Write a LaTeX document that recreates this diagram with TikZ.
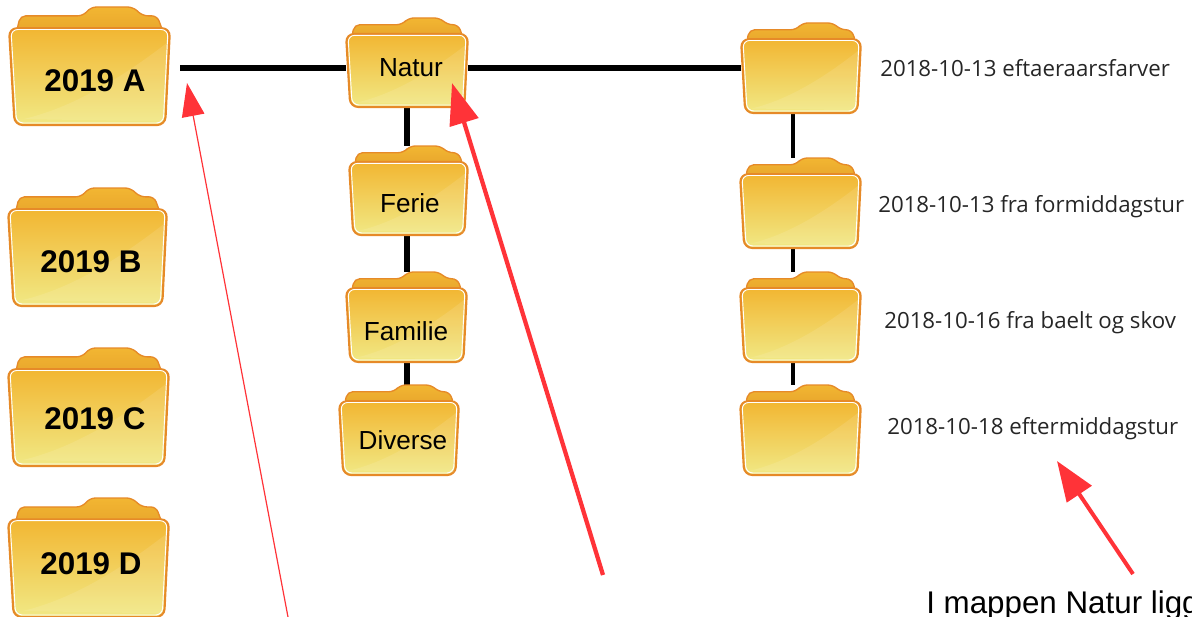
\documentclass[tikz,border=0pt]{standalone}
\usepackage{fontspec}
\setmainfont{Liberation Sans}
\newfontfamily\datefont{Open Sans}
\usetikzlibrary{arrows.meta,backgrounds}
\definecolor{folderedge}{HTML}{E68A28}
\definecolor{foldertop}{HTML}{F2B632}
\definecolor{folderbottom}{HTML}{F1E985}
\definecolor{tabdark}{HTML}{E8A52C}
\definecolor{arrowred}{HTML}{FF3338}
\tikzset{
  foldertab/.style={draw=folderedge,line width=1pt,rounded corners=4pt,top color=foldertop,bottom color=tabdark},
  folderfront/.style={draw=folderedge,line width=1.6pt,rounded corners=6pt,top color=foldertop,bottom color=folderbottom},
  folderrim/.style={draw=white,line width=0.7pt,rounded corners=5pt},
  folderframe/.style={inner sep=0pt,outer sep=0pt},
  namebig/.style={font=\bfseries\fontsize{23.5}{26}\selectfont,inner sep=0pt},
  namesmall/.style={font=\fontsize{19.6}{22}\selectfont,inner sep=0pt},
  datename/.style={font=\datefont\fontsize{16.7}{20}\selectfont,text=black!85,inner sep=0pt,anchor=west},
  railthick/.style={line width=4.5pt},
  railthin/.style={line width=3pt},
  redarrow/.style={draw=arrowred,line width=#1}
}
\newcommand{\frontpath}{(0,0.18) -- (1,0.18) -- (0.97,1) -- (0.035,1) -- cycle}
\newcommand{\folderbox}[5]{%
  \begin{scope}[shift={(#2,#3)},xscale=#4,yscale=#5]
    \path[foldertab] (0.045,0.22) -- (0.07,0.075) -- (0.46,0.075) -- (0.51,0) -- (0.77,0) -- (0.83,0.075) -- (0.92,0.075) -- (0.96,0.22) -- cycle;
    \path[folderfront] \frontpath;
    \fill[white,opacity=0.1] (0.985,0.3) .. controls (0.7,0.6) and (0.4,0.85) .. (0.09,0.95) -- (0.96,0.97) -- cycle;
  \end{scope}
  \begin{scope}[shift={(#2+2,#3+2)},xscale=#4-4,yscale=#5-4]
    \path[folderrim] \frontpath;
  \end{scope}
  \node[folderframe,minimum width={#4*0.75pt},minimum height={#5*0.75pt}] (#1) at (#2+#4/2,#3+#5/2) {};
}

\begin{document}
\begin{tikzpicture}[x=0.75pt,y=0.75pt,yscale=-1,xscale=1]
\useasboundingbox (0,0) rectangle (1192,617);
\folderbox{yeara}{9}{7}{161}{118}
\folderbox{yearb}{8}{188}{159}{118}
\folderbox{yearc}{8}{348}{161}{118}
\folderbox{yeard}{8}{498}{161}{119}
\folderbox{natur}{346}{18}{122}{89}
\folderbox{ferie}{349}{146}{119}{89}
\folderbox{familie}{346}{272}{121}{90}
\folderbox{diverse}{339}{385}{120}{90}
\folderbox{dira}{741}{23}{120}{90}
\folderbox{dirb}{740}{158}{121}{90}
\folderbox{dirc}{740}{272}{121}{90}
\folderbox{dird}{740}{385}{121}{90}
\node[namebig] (labela) at (95,81) {2019 A};
\node[namebig] (labelb) at (91,262) {2019 B};
\node[namebig] (labelc) at (95,419) {2019 C};
\node[namebig] (labeld) at (91,564) {2019 D};
\node[namesmall] (labelnatur) at (411,68) {Natur};
\node[namesmall] (labelferie) at (410,203) {Ferie};
\node[namesmall] (labelfamilie) at (406,331) {Familie};
\node[namesmall] (labeldiverse) at (403,440) {Diverse};
\node[datename] (datea) at (880,68) {2018-10-13 eftaeraarsfarver};
\node[datename] (dateb) at (878,207) {2018-10-13 fra formiddagstur};
\node[datename] (datec) at (884,323) {2018-10-16 fra baelt og skov};
\node[datename] (dated) at (887,429) {2018-10-18 eftermiddagstur};
\node[font=\fontsize{23.5}{26}\selectfont,inner sep=0pt,anchor=base west] (note) at (926,613) {I mappen Natur ligg};
\coordinate (rail) at (180,68);
\coordinate (dirline) at (793,0);
\begin{scope}[on background layer]
\draw[railthick,shorten <=7.5pt] (yeara.east|-rail) -- (natur.west|-rail);
\draw[railthick] (natur.east|-rail) -- (dira.west|-rail);
\draw[railthick] (natur.south) -- (natur.south|-ferie.north);
\draw[railthick] (natur.south|-ferie.south) -- (natur.south|-familie.north);
\draw[railthick] (natur.south|-familie.south) -- (natur.south|-diverse.north);
\draw[railthin] (dirline|-dira.south) -- (dirline|-dirb.north);
\draw[railthin] (dirline|-dirb.south) -- (dirline|-dirc.north);
\draw[railthin] (dirline|-dirc.south) -- (dirline|-dird.north);
\end{scope}
\coordinate (thinstart) at (288,617);
\coordinate (thintip) at (187,83);
\coordinate (midstart) at (603,575);
\coordinate (midtip) at (452,83);
\coordinate (notestart) at (1133,574);
\coordinate (notetip) at (1057,461);
\draw[redarrow=0.9pt,-{Triangle[length=25pt,width=17pt]}] (thinstart) -- (thintip);
\draw[redarrow=3.2pt,-{Triangle[length=31pt,width=22pt]}] (midstart) -- (midtip);
\draw[redarrow=3pt,-{Triangle[length=30pt,width=22pt]}] (notestart) -- (notetip);
\end{tikzpicture}
\end{document}
